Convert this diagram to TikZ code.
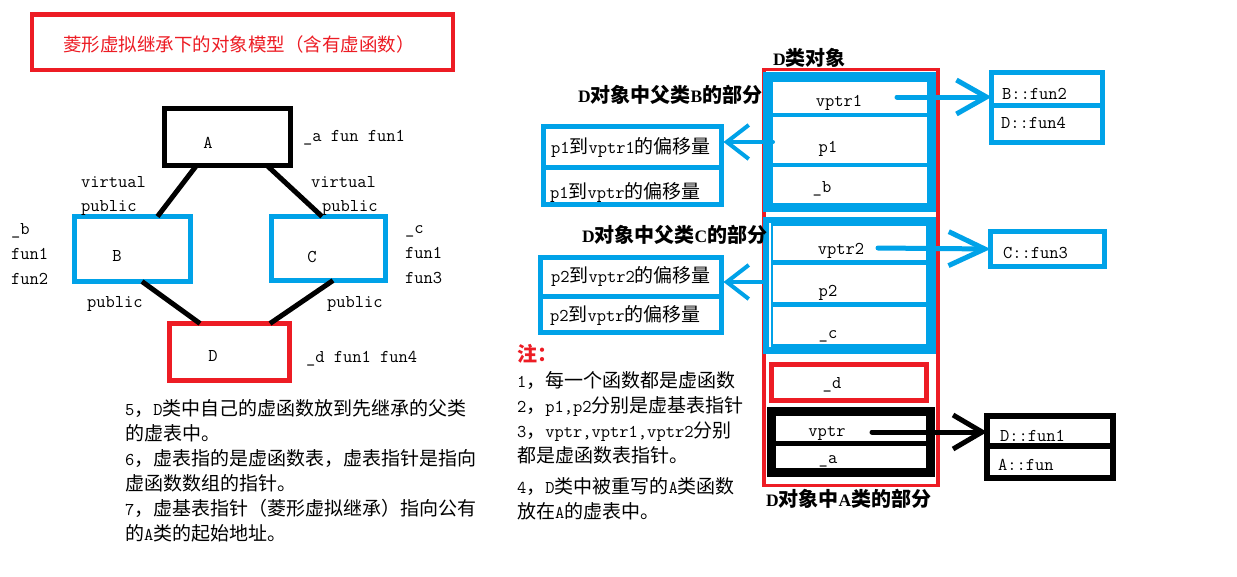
\documentclass[tikz,border=0pt]{standalone}
\usepackage{fontspec}
\newfontfamily\zh{Noto Sans CJK SC}
\newfontfamily\lserif{Liberation Serif}
\usetikzlibrary{arrows.meta}
\definecolor{pblue}{HTML}{00A2E8}
\definecolor{pred}{HTML}{ED1C24}
\newcommand\lt{\ttfamily\fontsize{18}{20}\selectfont}
\newcommand\zc[1]{{\zh\fontsize{19}{20}\selectfont #1}}
\newcommand\zbf[1]{{\zh\bfseries\fontsize{20}{20}\selectfont #1}}
\newcommand\ltb[1]{{\lserif\bfseries\fontsize{17.5}{20}\selectfont #1}}
\begin{document}
\begin{tikzpicture}[x=1pt,y=-1pt,
  every node/.style={inner sep=0pt,outer sep=0pt,font=\lt},
  frame/.style={draw,line width=5pt},
  conn/.style={line width=5pt,black},
  txt/.style={anchor=base west},
  ctxt/.style={anchor=base},
  sep/.style={line width=#1},
  barb/.style={line cap=round,-{Straight Barb[length=#1,width=34pt]}}]
\useasboundingbox (0,0) rectangle (1237,576);
\fill[white] (0,0) rectangle (1237,576);

% ---------- title ----------
\node[draw=pred,line width=4.5pt,minimum width=421pt,minimum height=55.5pt] (title) at (242.5,42.25) {};
\node[text=pred,font={\zh\fontsize{18.5}{20}\selectfont}] (ttext) at (239,44) {菱形虚拟继承下的对象模型（含有虚函数）};

% ---------- left diagram ----------
\node[frame,draw=black,minimum width=126pt,minimum height=57pt] (A) at (227.5,137) {};
\node[frame,draw=pblue,minimum width=116pt,minimum height=65pt] (B) at (132.5,249) {};
\node[frame,draw=pblue,minimum width=114pt,minimum height=64pt] (C) at (328.5,248.5) {};
\node[frame,draw=pred,minimum width=120pt,minimum height=57pt] (D) at (229.5,352) {};
\node (Al) at (208,143) {A};
\node (Bl) at (117,256) {B};
\node (Cl) at (312,257) {C};
\node (Dl) at (213,356) {D};

\draw[conn] ([xshift=-31pt]A.south) -- ([xshift=25pt]B.north);
\draw[conn] ([xshift=39.5pt]A.south) -- ([xshift=-6.5pt]C.north);
\draw[conn] ([xshift=9.5pt]B.south) -- ([xshift=-29.5pt]D.north);
\draw[conn] ([xshift=4.5pt]C.south) -- ([xshift=40.5pt]D.north);

\node[txt] (am) at (303,141) {\_a fun fun1};
\node[txt] (v1) at (81,187) {virtual};
\node[txt] (p1l) at (81,211) {public};
\node[txt] (v2) at (311,187) {virtual};
\node[txt] (p2l) at (322,211) {public};
\node[txt] (bm1) at (11,234) {\_b};
\node[txt] (bm2) at (11,259) {fun1};
\node[txt] (bm3) at (11,284) {fun2};
\node[txt] (cm1) at (405,233) {\_c};
\node[txt] (cm2) at (405,258) {fun1};
\node[txt] (cm3) at (405,283) {fun3};
\node[txt] (p3l) at (87,307) {public};
\node[txt] (p4l) at (327,307) {public};
\node[txt] (dm) at (306,362) {\_d fun1 fun4};

% ---------- left notes ----------
\node[txt] (l5a) at (125,415) {5\zc{，}D\zc{类中自己的虚函数放到先继承的父类}};
\node[txt] (l5b) at (125,440) {\zc{的虚表中。}};
\node[txt] (l6a) at (125,465) {6\zc{，虚表指的是虚函数表，虚表指针是指向}};
\node[txt] (l6b) at (125,490) {\zc{虚函数数组的指针。}};
\node[txt] (l7a) at (125,515) {7\zc{，虚基表指针（菱形虚拟继承）指向公有}};
\node[txt] (l7b) at (125,540) {\zc{的}A\zc{类的起始地址。}};

% ---------- right notes ----------
\node[txt,text=pred] (n0) at (517,361) {\zbf{注：}};
\node[txt] (n1) at (517,387) {1\zc{，每一个函数都是虚函数}};
\node[txt] (n2) at (517,412) {2\zc{，}p1,p2\zc{分别是虚基表指针}};
\node[txt] (n3) at (517,437) {3\zc{，}vptr,vptr1,vptr2\zc{分别}};
\node[txt] (n4) at (517,462) {\zc{都是虚函数表指针。}};
\node[txt] (n5) at (517,493) {4\zc{，}D\zc{类中被重写的}A\zc{类函数}};
\node[txt] (n6) at (517,518) {\zc{放在}A\zc{的虚表中。}};

% ---------- D object ----------
\node[draw=pred,line width=3.5pt,minimum width=174pt,minimum height=416pt] (Dobj) at (851,277.5) {};
\node[draw=pblue,line width=9.5pt,minimum width=163.5pt,minimum height=130.5pt] (Bpart) at (849.75,142.25) {};
\draw[pblue,sep=4.5pt] (773,115) -- (927,115);
\draw[pblue,sep=4.5pt] (773,165) -- (927,165);
\node[draw=pblue,line width=9.5pt,minimum width=163pt,minimum height=127.5pt] (Cpart) at (849.5,285.25) {};
\draw[white,line width=1.5pt] (770,223) -- (770,347);
\draw[pblue,sep=5pt] (773,262) -- (927,262);
\draw[pblue,sep=5pt] (773,304.5) -- (927,304.5);
\node[draw=pred,line width=5pt,minimum width=155pt,minimum height=36pt] (dpart) at (849,382.5) {};
\node[draw=black,line width=9pt,minimum width=159pt,minimum height=61pt] (Apart) at (851,442) {};
\draw[black,sep=5pt] (776,443.5) -- (926,443.5);

\node[ctxt] (c1) at (839,106) {vptr1};
\node[ctxt] (c2) at (828,152) {p1};
\node[ctxt] (c3) at (822,192) {\_b};
\node[ctxt] (c4) at (841,254) {vptr2};
\node[ctxt] (c5) at (828,296) {p2};
\node[ctxt] (c6) at (828,338) {\_c};
\node[ctxt] (c7) at (832,388) {\_d};
\node[ctxt] (c8) at (827,436) {vptr};
\node[ctxt] (c9) at (828,463) {\_a};

\node[txt] (lb0) at (773,65) {\ltb{D}\zbf{类对象}};
\node[txt] (lb1) at (578,102) {\ltb{D}\zbf{对象中父类}\ltb{B}\zbf{的部分}};
\node[txt] (lb2) at (582,242) {\ltb{D}\zbf{对象中父类}\ltb{C}\zbf{的部分}};
\node[txt] (lb3) at (766,506) {\ltb{D}\zbf{对象中}\ltb{A}\zbf{类的部分}};

% ---------- virtual tables ----------
\node[draw=pblue,line width=5pt,minimum width=111pt,minimum height=70pt] (Btab) at (1047,107.5) {};
\draw[pblue,sep=5pt] (991.5,105.5) -- (1102.5,105.5);
\node[txt] (bt1) at (1002,99) {B::fun2};
\node[txt] (bt2) at (1001,128) {D::fun4};
\node[draw=pblue,line width=5pt,minimum width=114pt,minimum height=35pt] (Ctab) at (1047.5,249) {};
\node[txt] (ct1) at (1003,258) {C::fun3};
\node[draw=black,line width=6pt,minimum width=126pt,minimum height=62pt] (Atab) at (1050,447) {};
\draw[black,sep=6pt] (987,446) -- (1113,446);
\node[txt] (at1) at (1000,441) {D::fun1};
\node[txt] (at2) at (998,470) {A::fun};

% ---------- offset tables ----------
\node[draw=pblue,line width=5pt,minimum width=178pt,minimum height=78pt] (off1) at (632.5,165.5) {};
\draw[pblue,sep=5pt] (543.5,167.5) -- (721.5,167.5);
\node[txt] (o1) at (551,153) {p1\zc{到}vptr1\zc{的偏移量}};
\node[txt] (o2) at (550,198) {p1\zc{到}vptr\zc{的偏移量}};
\node[draw=pblue,line width=5pt,minimum width=181pt,minimum height=75pt] (off2) at (631,295) {};
\draw[pblue,sep=5pt] (540.5,296.5) -- (721.5,296.5);
\node[txt] (o3) at (551,282) {p2\zc{到}vptr2\zc{的偏移量}};
\node[txt] (o4) at (550,321) {p2\zc{到}vptr\zc{的偏移量}};

% ---------- arrows ----------
\coordinate (s1) at (897,97);
\coordinate (s2) at (878,248);
\coordinate (s3) at (872,432);
\coordinate (s4) at (773,142);
\coordinate (s5) at (765,282);
\draw[pblue,line width=5pt,barb=30pt] (s1) -- ([yshift=10.5pt]Btab.west);
\draw[pblue,line width=5pt,barb=36pt] (s2) -- (Ctab.west);
\draw[black,line width=5pt,barb=29pt] (s3) -- ([yshift=15pt]Atab.west);
\draw[pblue,line width=4pt,barb=22pt] (s4) -- ([yshift=23.5pt,xshift=2pt]off1.east);
\draw[pblue,line width=4pt,barb=22pt] (s5) -- ([yshift=13pt,xshift=2pt]off2.east);
\end{tikzpicture}
\end{document}
